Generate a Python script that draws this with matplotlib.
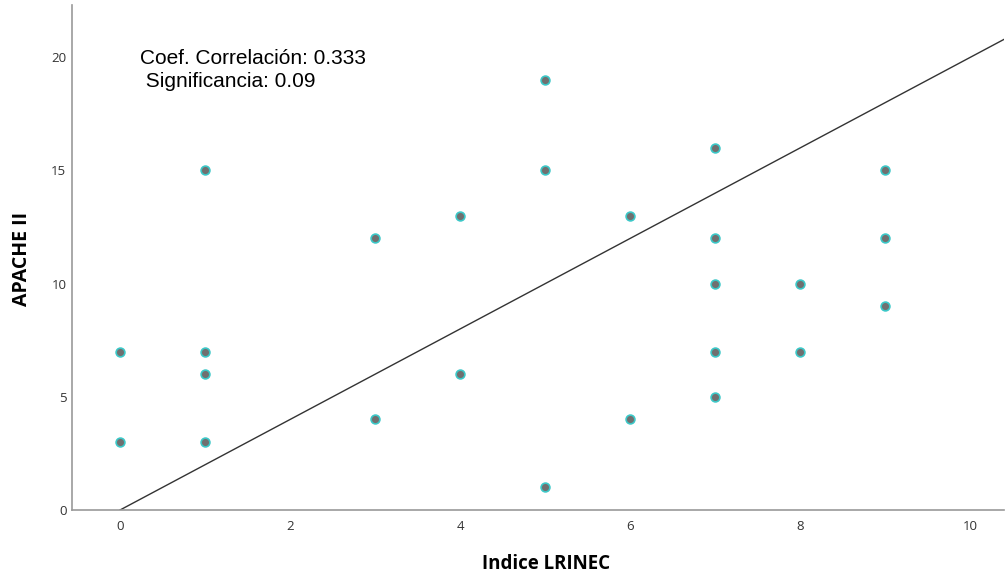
import matplotlib
matplotlib.use('Agg')
import matplotlib.pyplot as plt
import numpy as np

# Datos
lrinec = [0, 0, 1, 1, 1, 1, 3, 3, 4, 4, 5, 5, 5, 6, 6, 7, 7, 7, 7, 7, 8, 8, 9, 9, 9]
apache = [7, 3, 15, 7, 6, 3, 12, 4, 13, 6, 19, 15, 1, 13, 4, 16, 12, 10, 7, 5, 10, 7, 15, 12, 9]
line_x = [0, 10.4]
line_slope = 2.0
x_ticks = [0, 2, 4, 6, 8, 10]
y_ticks = [0, 5, 10, 15, 20]
annot = "Coef. Correlación: 0.333\n Significancia: 0.09"

fig = plt.figure(figsize=(10.05, 5.75), dpi=100)
ax = fig.add_axes([0.0716, 0.113, 0.927, 0.878])

ax.scatter(lrinec, apache, s=40, c='#707070', edgecolors='#3cc8c8', linewidths=1.2, zorder=3)
lx = np.array(line_x)
ax.plot(lx, line_slope * lx, color='#333333', linewidth=1.0, zorder=2)

ax.set_xlim(-0.565, 10.39)
ax.set_ylim(0, 22.3)
ax.set_xticks(x_ticks)
ax.set_yticks(y_ticks)
ax.tick_params(length=0, labelsize=9.5, labelcolor='#333333', labelfontfamily='Open Sans')
ax.tick_params(axis='x', pad=7)
ax.tick_params(axis='y', pad=4)

for s in ['top', 'right']:
    ax.spines[s].set_visible(False)
for s in ['left', 'bottom']:
    ax.spines[s].set_color('#999999')
    ax.spines[s].set_linewidth(1.2)

# Etiquetas de ejes
ax.set_xlabel('Indice LRINEC', fontsize=13.5, fontweight='bold', family='Open Sans', va='center')
ax.set_ylabel('APACHE II', fontsize=14, fontweight='bold', family='Open Sans', va='center')
ax.xaxis.set_label_coords(0.509, -0.107)
ax.yaxis.set_label_coords(-0.0537, 0.498)

ax.text(0.235, 19.45, annot, fontsize=15, family='Liberation Sans', va='center', ha='left', linespacing=1.25)

fig.savefig('out.png', dpi=100)
plt.close()
